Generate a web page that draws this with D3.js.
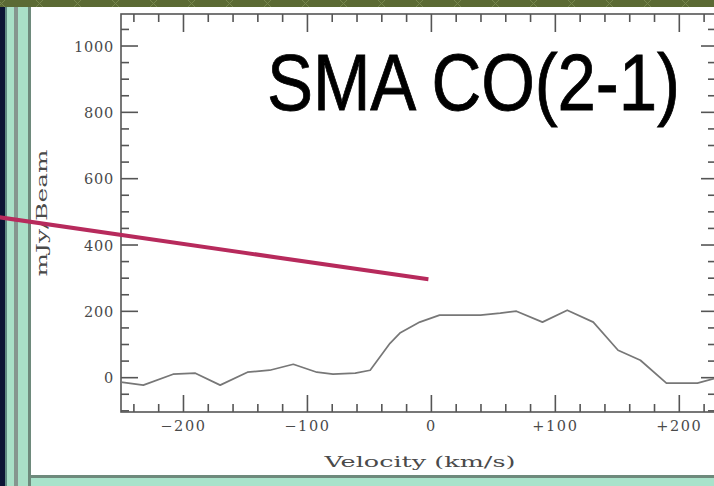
<!DOCTYPE html>
<html>
<head>
<meta charset="utf-8">
<script src="https://cdn.jsdelivr.net/npm/d3@7"></script>
<style>
  html, body { margin: 0; padding: 0; background: #ffffff; }
  svg { display: block; }
</style>
</head>
<body>
<svg id="chart" width="714" height="486"></svg>
<script>
// CO(2-1) spectrum: velocity channel (km/s) and flux density (mJy/beam)
const velocity = [-250, -232, -208, -190, -170, -148, -130, -111, -92, -79, -61, -49, -33, -25, -9, 7, 40, 56, 69, 90, 110, 131, 151, 169, 190, 215, 230];
const flux     = [-15, -24, 9, 12, -24, 15, 21, 39, 15, 9, 12, 21, 102, 133, 166, 187, 187, 193, 199, 166, 202, 166, 81, 51, -18, -18, -3];

// Axis ticks
const xMajorTicks = [-200, -100, 0, 100, 200];
const xMinorTicks = [-240, -220, -180, -160, -140, -120, -80, -60, -40, -20, 20, 40, 60, 80, 120, 140, 160, 180, 220];
const yMajorTicks = [0, 200, 400, 600, 800, 1000];
const yMinorTicks = [-100, -50, 50, 100, 150, 250, 300, 350, 450, 500, 550, 650, 700, 750, 850, 900, 950, 1050];

// Slide annotations
const titleText = "SMA CO(2-1)";
const xLabel = "Velocity (km/s)";
const yLabel = "mJy/Beam";
// Pointer line, in data units (velocity, flux)
const pointerV = [-348, -2];
const pointerF = [482, 295];

const svg = d3.select("#chart");
const W = 714, H = 486;

// ---- slide frame ----
svg.append("rect").attr("x", 0).attr("y", 0).attr("width", W).attr("height", H).attr("fill", "#ffffff");
// left stripes
svg.append("rect").attr("x", 0).attr("y", 0).attr("width", 31).attr("height", H).attr("fill", "#a9dfc7");
svg.append("rect").attr("x", 0).attr("y", 0).attr("width", 5).attr("height", H).attr("fill", "#0b1434");
svg.append("rect").attr("x", 5).attr("y", 0).attr("width", 2).attr("height", H).attr("fill", "#5f8a82");
svg.append("rect").attr("x", 14).attr("y", 0).attr("width", 4).attr("height", H).attr("fill", "#86958f");
svg.append("rect").attr("x", 28).attr("y", 0).attr("width", 3).attr("height", H).attr("fill", "#6e8a7c");
// bottom stripe
svg.append("rect").attr("x", 28).attr("y", 475).attr("width", W - 28).attr("height", 3).attr("fill", "#6e8a7c");
svg.append("rect").attr("x", 31).attr("y", 478).attr("width", W - 31).attr("height", 8).attr("fill", "#a9e3cb");
// top olive band with faint lattice
svg.append("rect").attr("x", 0).attr("y", 0).attr("width", W).attr("height", 7).attr("fill", "#5b6a34");
const band = svg.append("g").attr("stroke", "#7e8d55").attr("stroke-width", 1).attr("opacity", 0.8);
d3.range(-40, W + 40, 38).forEach(x0 => {
  band.append("line").attr("x1", x0).attr("y1", 0).attr("x2", x0 + 7).attr("y2", 7);
  band.append("line").attr("x1", x0 + 7).attr("y1", 0).attr("x2", x0).attr("y2", 7);
});

// ---- plot ----
const x = d3.scaleLinear().domain([-250, 230]).range([121, 716]);
const y = d3.scaleLinear().domain([-105, 1095]).range([412, 14]);

const axisColor = "#555555";
const labelFont = "'DejaVu Serif', serif";

function styleAxis(g) {
  g.select(".domain").remove();
  g.selectAll(".tick line").attr("stroke", axisColor).attr("stroke-width", 1.6);
  g.selectAll(".tick text")
    .attr("fill", "#4a4a4a")
    .attr("font-family", labelFont)
    .attr("font-size", 14.5)
    .attr("letter-spacing", 1.6);
}

const fmtV = v => v > 0 ? "+" + v : (v < 0 ? "\u2212" + Math.abs(v) : "0");

// bottom axis
svg.append("g").attr("transform", `translate(0,${y.range()[0]})`)
  .call(d3.axisBottom(x).tickValues(xMajorTicks).tickSizeInner(-17).tickSizeOuter(0).tickPadding(9).tickFormat(fmtV))
  .call(styleAxis);
svg.append("g").attr("transform", `translate(0,${y.range()[0]})`)
  .call(d3.axisBottom(x).tickValues(xMinorTicks).tickSizeInner(-8).tickSizeOuter(0).tickFormat(""))
  .call(styleAxis);
// top axis
svg.append("g").attr("transform", `translate(0,${y.range()[1]})`)
  .call(d3.axisTop(x).tickValues(xMajorTicks).tickSizeInner(-18).tickSizeOuter(0).tickFormat(""))
  .call(styleAxis);
svg.append("g").attr("transform", `translate(0,${y.range()[1]})`)
  .call(d3.axisTop(x).tickValues(xMinorTicks).tickSizeInner(-8).tickSizeOuter(0).tickFormat(""))
  .call(styleAxis);
// left axis
svg.append("g").attr("transform", `translate(${x.range()[0]},0)`)
  .call(d3.axisLeft(y).tickValues(yMajorTicks).tickSizeInner(-17).tickSizeOuter(0).tickPadding(7).tickFormat(d => String(d)))
  .call(styleAxis)
  .call(g => g.selectAll(".tick text").attr("dy", "0.4em").attr("letter-spacing", 0.8));
svg.append("g").attr("transform", `translate(${x.range()[0]},0)`)
  .call(d3.axisLeft(y).tickValues(yMinorTicks).tickSizeInner(-8).tickSizeOuter(0).tickFormat(""))
  .call(styleAxis);
// right axis
svg.append("g").attr("transform", `translate(${x.range()[1]},0)`)
  .call(d3.axisRight(y).tickValues(yMajorTicks).tickSizeInner(-15).tickSizeOuter(0).tickFormat(""))
  .call(styleAxis);
svg.append("g").attr("transform", `translate(${x.range()[1]},0)`)
  .call(d3.axisRight(y).tickValues(yMinorTicks).tickSizeInner(-8).tickSizeOuter(0).tickFormat(""))
  .call(styleAxis);

// frame
svg.append("rect")
  .attr("x", x.range()[0]).attr("y", y.range()[1])
  .attr("width", x.range()[1] - x.range()[0]).attr("height", y.range()[0] - y.range()[1])
  .attr("fill", "none").attr("stroke", axisColor).attr("stroke-width", 1.6);

// spectrum
const pts = velocity.map((v, i) => [v, flux[i]]);
svg.append("path")
  .datum(pts)
  .attr("fill", "none")
  .attr("stroke", "#777777")
  .attr("stroke-width", 1.7)
  .attr("stroke-linejoin", "round")
  .attr("d", d3.line().x(d => x(d[0])).y(d => y(d[1])));

// axis titles
svg.append("text")
  .attr("x", 420).attr("y", 467)
  .attr("text-anchor", "middle")
  .attr("font-family", labelFont).attr("font-size", 15.5)
  .attr("fill", "#4a4a4a")
  .attr("textLength", 191).attr("lengthAdjust", "spacingAndGlyphs")
  .text(xLabel);
svg.append("text")
  .attr("transform", "translate(47,213) rotate(-90)")
  .attr("text-anchor", "middle")
  .attr("font-family", labelFont).attr("font-size", 15.5)
  .attr("fill", "#4a4a4a")
  .attr("textLength", 127).attr("lengthAdjust", "spacingAndGlyphs")
  .text(yLabel);

// slide title
svg.append("text")
  .attr("transform", "translate(267,110) scale(1,1.16)")
  .attr("font-family", "'Liberation Sans', Arial, sans-serif")
  .attr("font-size", 69)
  .attr("fill", "#000")
  .attr("stroke", "#000").attr("stroke-width", 0.7)
  .attr("textLength", 413).attr("lengthAdjust", "spacing")
  .text(titleText);

// pointer line
svg.append("line")
  .attr("x1", x(pointerV[0])).attr("y1", y(pointerF[0]))
  .attr("x2", x(pointerV[1])).attr("y2", y(pointerF[1]))
  .attr("stroke", "#b72a5c").attr("stroke-width", 4);
</script>
</body>
</html>
